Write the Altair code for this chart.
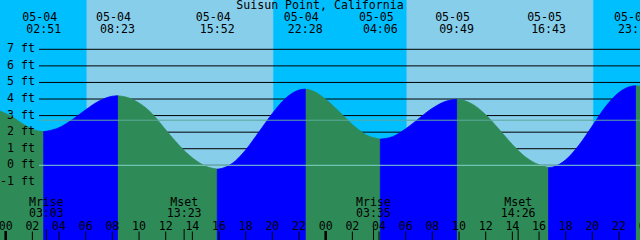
import altair as alt
import pandas as pd

# ---- data (hours after 05-04 00:00, heights in feet) ----
sky_start = [-0.43, 6.10, 20.03, 30.10, 44.03]
sky_end = [6.10, 20.03, 30.10, 44.03, 47.58]
sky_kind = ["night", "day", "night", "day", "night"]

tide_hours = [-0.43, 0.5, 1.5, 2.2, 2.85,
              4, 5, 6, 7, 8, 8.383,
              9, 10, 11, 12, 13, 14, 15, 15.867,
              16, 17, 18, 19, 20, 21, 22, 22.467,
              23, 24, 25, 26, 27, 28.10,
              29, 30, 31, 32, 33, 33.817,
              34, 35, 36, 37, 38, 39, 40, 40.717,
              41, 42, 43, 44, 45, 46, 47, 47.233,
              47.58]
tide_feet = [3.28, 2.92, 2.39, 2.12, 2.03,
             2.27, 2.76, 3.35, 3.88, 4.17, 4.20,
             4.12, 3.76, 3.10, 2.14, 1.21, 0.45, -0.06, -0.23,
             -0.22, 0.12, 0.93, 2.02, 3.13, 4.05, 4.54, 4.60,
             4.50, 3.98, 3.24, 2.46, 1.85, 1.58,
             1.72, 2.20, 2.83, 3.44, 3.86, 3.98,
             3.97, 3.69, 3.05, 2.17, 1.25, 0.49, 0.03, -0.13,
             -0.11, 0.33, 1.22, 2.38, 3.55, 4.40, 4.78, 4.80,
             4.78]

turn_hours = [2.85, 8.383, 15.867, 22.467, 28.10, 33.817, 40.717, 47.233]
turn_dates = ["05-04", "05-04", "05-04", "05-04", "05-05", "05-05", "05-05", "05-05"]
turn_times = ["02:51", "08:23", "15:52", "22:28", "04:06", "09:49", "16:43", "23:14"]

moon_hours = [3.05, 13.383, 27.583, 38.433]
moon_names = ["Mrise", "Mset", "Mrise", "Mset"]
moon_times = ["03:03", "13:23", "03:35", "14:26"]

hour_ticks = [0, 2, 4, 6, 8, 10, 12, 14, 16, 18, 20, 22,
              24, 26, 28, 30, 32, 34, 36, 38, 40, 42, 44, 46, 48]
hour_labels = ["00", "02", "04", "06", "08", "10", "12", "14", "16", "18", "20", "22",
               "00", "02", "04", "06", "08", "10", "12", "14", "16", "18", "20", "22", "00"]
midnights = [0, 24, 48]

grid_feet = [-1, 0, 1, 2, 3, 4, 5, 6, 7]
grid_labels = ["-1 ft", "0 ft", "1 ft", "2 ft", "3 ft", "4 ft", "5 ft", "6 ft", "7 ft"]
ref_feet = [2.72, 0.0]
ref_kind = ["mean", "zero"]

title_text = ["Suisun Point, California"]

# ---- tables ----
bounds = [tide_hours[0]] + turn_hours + [tide_hours[-1]]
rows = []
for i in range(len(bounds) - 1):
    a, b = bounds[i], bounds[i + 1]
    pts = [(h, f) for h, f in zip(tide_hours, tide_feet) if a - 1e-9 <= h <= b + 1e-9]
    rising = pts[-1][1] > pts[0][1]
    for h, f in pts:
        rows.append({"seg": i, "dir": "rise" if rising else "fall", "h": h, "ft": f})
tide_df = pd.DataFrame(rows)

sky_df = pd.DataFrame({"s": sky_start, "e": sky_end, "kind": sky_kind})
turn_df = pd.DataFrame({"h": turn_hours, "date": turn_dates, "time": turn_times})
moon_df = pd.DataFrame({"h": moon_hours, "name": moon_names, "time": moon_times})
tick_df = pd.DataFrame({"h": hour_ticks, "label": hour_labels})
mid_df = pd.DataFrame({"h": midnights})
grid_df = pd.DataFrame({"ft": grid_feet, "label": grid_labels})
ref_df = pd.DataFrame({"ft": ref_feet, "kind": ref_kind})
title_df = pd.DataFrame({"t": title_text})

xs = alt.Scale(domain=[-0.4275, 47.5725], nice=False, zero=False)
ys = alt.Scale(domain=[-4.508, 9.976], nice=False, zero=False)
FONT = "DejaVu Sans Mono"
FS = 11.6

X = lambda f="h": alt.X(f"{f}:Q", scale=xs, axis=None)
Y = lambda f="ft": alt.Y(f"{f}:Q", scale=ys, axis=None)

txt = dict(font=FONT, fontSize=FS, color="black", baseline="middle")

layers = []

# sky bands
for kind, col in [("night", "#00BFFF"), ("day", "#87CEEB")]:
    layers.append(
        alt.Chart(sky_df).transform_filter(alt.datum.kind == kind)
        .mark_rect(fill=col, stroke=col, strokeWidth=1)
        .encode(x=alt.X("s:Q", scale=xs, axis=None), x2="e:Q",
                y=alt.value(0), y2=alt.value(240))
    )

# black level lines
layers.append(
    alt.Chart(grid_df).mark_rule(color="black", strokeWidth=1).encode(
        x=alt.value(39), x2=alt.value(640), y=Y())
)

# tide fill, rising blue / falling green
for d, col in [("fall", "#2E8B57"), ("rise", "#0000FF")]:
    layers.append(
        alt.Chart(tide_df).transform_filter(alt.datum.dir == d)
        .mark_area(interpolate="monotone", fill=col, stroke=col, strokeWidth=0.8)
        .encode(x=X(), y=Y(), y2=alt.datum(-4.508), detail="seg:N")
    )

# mean level and zero lines
for k, col in [("mean", "#5CA89C"), ("zero", "#82D2C8")]:
    layers.append(
        alt.Chart(ref_df).transform_filter(alt.datum.kind == k)
        .mark_rule(color=col, strokeWidth=1)
        .encode(x=alt.value(39), x2=alt.value(640), y=Y())
    )

layers += [
    alt.Chart(grid_df).mark_text(align="right", **txt).encode(
        x=alt.value(35), y=Y(), text="label:N"),
    alt.Chart(title_df).mark_text(align="center", **txt).encode(
        x=alt.value(320), y=alt.value(6.2), text="t:N"),
    alt.Chart(turn_df).mark_text(align="center", dx=-4, **txt).encode(
        x=X(), y=alt.value(18.2), text="date:N"),
    alt.Chart(turn_df).mark_text(align="center", **txt).encode(
        x=X(), y=alt.value(30.2), text="time:N"),
    alt.Chart(moon_df).mark_text(align="center", **txt).encode(
        x=X(), y=alt.value(202.9), text="name:N"),
    alt.Chart(moon_df).mark_text(align="center", **txt).encode(
        x=X(), y=alt.value(214.2), text="time:N"),
    alt.Chart(moon_df).mark_rule(color="black", strokeWidth=1).encode(
        x=X(), y=alt.value(229), y2=alt.value(240)),
    alt.Chart(tick_df).mark_text(align="center", **txt).encode(
        x=X(), y=alt.value(226.5), text="label:N"),
    alt.Chart(tick_df).mark_rule(color="black", strokeWidth=1).encode(
        x=X(), y=alt.value(231.5), y2=alt.value(240)),
    alt.Chart(mid_df).mark_rule(color="black", strokeWidth=2.6).encode(
        x=X(), y=alt.value(231), y2=alt.value(240)),
]

chart = alt.layer(*layers).properties(
    width=640, height=240, autosize="none", padding=0, background="#87CEEB"
).configure_view(stroke=None)

chart.save("out.html", embed_options={"renderer": "svg", "actions": False})
